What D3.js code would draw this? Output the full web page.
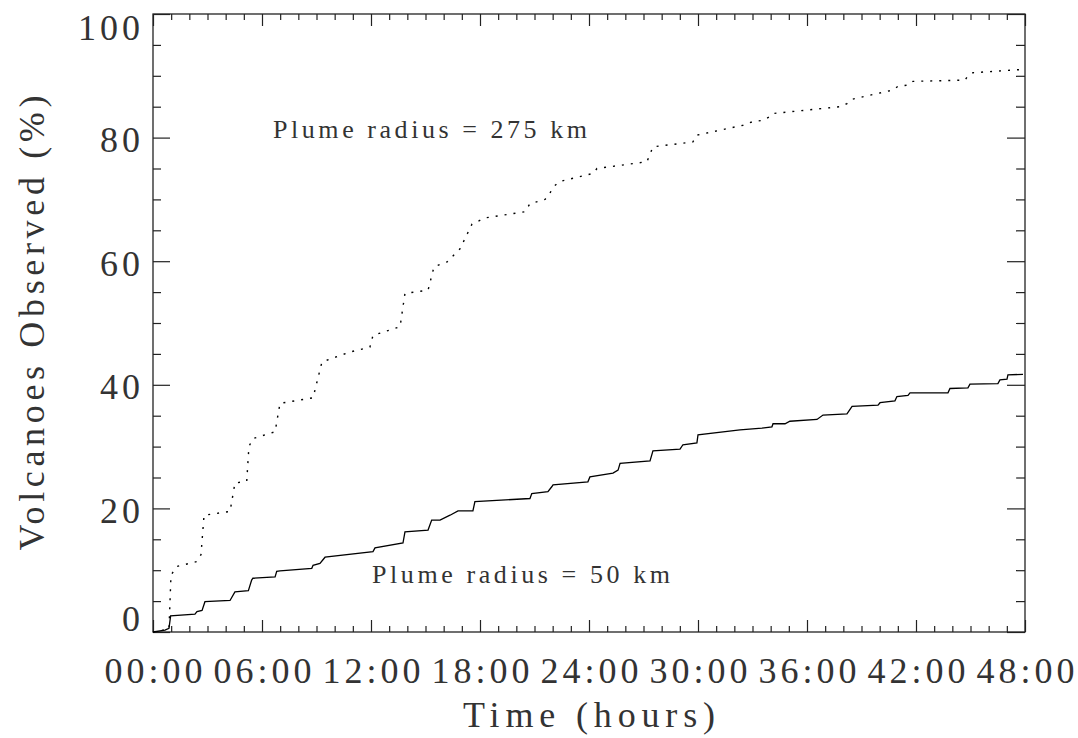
<!DOCTYPE html>
<html><head><meta charset="utf-8">
<script src="https://cdn.jsdelivr.net/npm/d3@7"></script>
<style>
html,body{margin:0;padding:0;background:#fff;}
svg{display:block;}
text{font-family:"Liberation Serif","Times New Roman",serif;fill:#333;}
</style></head><body>
<svg id="chart" width="1078" height="738"></svg>
<script>
// ---- data ----
const hours275 = [0,0.55,0.88,0.99,1.30,2.41,2.64,2.81,4.24,4.51,5.16,5.28,5.50,6.72,6.99,8.81,9.30,10.84,11.94,12.11,13.60,13.87,15.14,15.47,16.19,16.90,17.56,18.27,20.48,20.75,21.58,21.85,22.02,22.40,24.22,24.44,27.19,27.52,29.72,29.94,32.48,33.03,33.58,33.96,34.13,37.82,38.20,38.48,40.73,41.01,41.56,41.83,44.70,44.86,45.14,47.72];
const pct275   = [0,0.3,0.5,9.2,10.6,11.4,12.5,18.9,19.5,24.1,24.4,30.0,31.3,32.4,37.0,37.9,43.7,45.3,46.1,48.0,49.4,54.8,55.3,59.1,59.9,62.0,66.0,67.0,68.0,69.3,70.0,71.0,72.0,72.9,74.2,75.0,76.1,78.5,79.3,80.4,82.0,82.6,82.8,83.4,83.9,85.0,85.5,86.2,87.7,88.3,88.5,89.1,89.3,90.0,90.5,91.0];
const hours50 = [0,0.66,0.88,0.97,2.31,2.42,2.70,2.86,4.24,4.51,5.25,5.43,5.50,6.72,6.81,6.99,8.74,8.81,9.19,9.47,12.11,12.22,13.76,13.87,15.14,15.34,15.80,16.35,16.79,17.61,17.72,20.75,20.85,21.74,21.95,22.02,23.94,24.05,25.32,25.60,25.71,27.36,27.52,29.01,29.17,29.94,30.00,32.31,33.52,34.07,34.13,34.79,35.06,36.55,36.88,38.20,38.48,39.91,40.02,40.84,40.95,41.56,41.67,43.76,43.87,44.86,44.97,46.51,46.62,47.01,47.06,47.89];
const pct50   = [0,0.3,0.6,2.6,2.9,3.3,3.5,4.9,5.1,6.5,6.7,8.4,8.7,8.9,9.8,9.9,10.3,10.8,11.1,12.1,13.0,13.6,14.4,16.2,16.5,18.1,18.1,18.9,19.6,19.6,21.1,21.6,22.4,22.7,23.5,23.8,24.3,25.1,25.7,26.2,27.3,27.7,29.3,29.6,30.3,30.6,31.9,32.7,33.0,33.2,33.7,33.7,34.1,34.4,35.1,35.3,36.5,36.7,37.1,37.4,38.1,38.3,38.7,38.7,39.4,39.5,40.1,40.2,40.8,40.9,41.6,41.7];
const xMajorHours = [0,6,12,18,24,30,36,42,48];
const xTickLabels = ["00:00","06:00","12:00","18:00","24:00","30:00","36:00","42:00","48:00"];
const yMajor = [0,20,40,60,80,100];
const yTickLabels = ["0","20","40","60","80","100"];
const annotations = ["Plume radius = 275 km","Plume radius = 50 km"];
const xTitle = "Time (hours)";
const yTitle = "Volcanoes Observed (%)";

// ---- layout ----
const L = 153, R = 1025, T = 14, B = 632;
const svg = d3.select("#chart");
const x = d3.scaleLinear().domain([0,48]).range([L,R]);
const y = d3.scaleLinear().domain([0,100]).range([B,T]);
const xMinor = d3.range(0,49,1).filter(h => h % 6 !== 0);
const yMinor = d3.range(0,101,5).filter(v => v % 20 !== 0);

const axisColor = "#222";
function styleAxis(g){
  g.select(".domain").remove();
  g.selectAll(".tick line").attr("stroke",axisColor).attr("stroke-width",1.2);
}

// bottom
svg.append("g").attr("transform",`translate(0,${B})`)
  .call(d3.axisBottom(x).tickValues(xMinor).tickSize(-6).tickFormat(""))
  .call(styleAxis);
const gxb = svg.append("g").attr("transform",`translate(0,${B})`)
  .call(d3.axisBottom(x).tickValues(xMajorHours).tickSize(-12)
        .tickFormat((d,i)=>xTickLabels[i]))
  .call(styleAxis);
gxb.selectAll(".tick text")
  .attr("y",51).attr("dy",null)
  .attr("dx",2)
  .style("font-size","36px").style("letter-spacing","4px")
  .attr("fill","#333").attr("font-family",null);

// top
svg.append("g").attr("transform",`translate(0,${T})`)
  .call(d3.axisTop(x).tickValues(xMinor).tickSize(-6).tickFormat(""))
  .call(styleAxis);
svg.append("g").attr("transform",`translate(0,${T})`)
  .call(d3.axisTop(x).tickValues(xMajorHours).tickSize(-12).tickFormat(""))
  .call(styleAxis);

// left
svg.append("g").attr("transform",`translate(${L},0)`)
  .call(d3.axisLeft(y).tickValues(yMinor).tickSize(-8).tickFormat(""))
  .call(styleAxis);
const gyl = svg.append("g").attr("transform",`translate(${L},0)`)
  .call(d3.axisLeft(y).tickValues(yMajor).tickSize(-17)
        .tickFormat((d,i)=>yTickLabels[i]))
  .call(styleAxis);
gyl.selectAll(".tick text")
  .attr("x",-9).attr("dy",null)
  .attr("y", d => d===0 ? -2 : (d===100 ? 25 : 14))
  .attr("text-anchor","end")
  .style("font-size","36px").style("letter-spacing","4px")
  .attr("fill","#333").attr("font-family",null);

// right
svg.append("g").attr("transform",`translate(${R},0)`)
  .call(d3.axisRight(y).tickValues(yMinor).tickSize(-9).tickFormat(""))
  .call(styleAxis);
svg.append("g").attr("transform",`translate(${R},0)`)
  .call(d3.axisRight(y).tickValues(yMajor).tickSize(-18).tickFormat(""))
  .call(styleAxis);

// frame
svg.append("rect").attr("x",L).attr("y",T).attr("width",R-L).attr("height",B-T)
  .attr("fill","none").attr("stroke",axisColor).attr("stroke-width",1.3);

// series
const line = d3.line().x(d=>x(d[0])).y(d=>y(d[1]));
const s275 = hours275.map((h,i)=>[h,pct275[i]]);
const s50 = hours50.map((h,i)=>[h,pct50[i]]);
svg.append("path").datum(s275).attr("d",line)
  .attr("fill","none").attr("stroke","#000").attr("stroke-width",1.4)
  .attr("stroke-dasharray","2,7");
svg.append("path").datum(s50).attr("d",line)
  .attr("fill","none").attr("stroke","#000").attr("stroke-width",1.3);

// annotations
svg.append("text").attr("x",273).attr("y",138).text(annotations[0])
  .style("font-size","26px").attr("textLength",314).attr("lengthAdjust","spacing");
svg.append("text").attr("x",372).attr("y",583).text(annotations[1])
  .style("font-size","26px").attr("textLength",298).attr("lengthAdjust","spacing");

// axis titles
svg.append("text").attr("x",(L+R)/2).attr("y",727).attr("text-anchor","middle")
  .text(xTitle).style("font-size","36px")
  .attr("textLength",252).attr("lengthAdjust","spacing");
svg.append("text").attr("transform",`translate(44,${(T+B)/2}) rotate(-90)`)
  .attr("text-anchor","middle").text(yTitle).style("font-size","36px")
  .attr("textLength",455).attr("lengthAdjust","spacing");
</script>
</body></html>
